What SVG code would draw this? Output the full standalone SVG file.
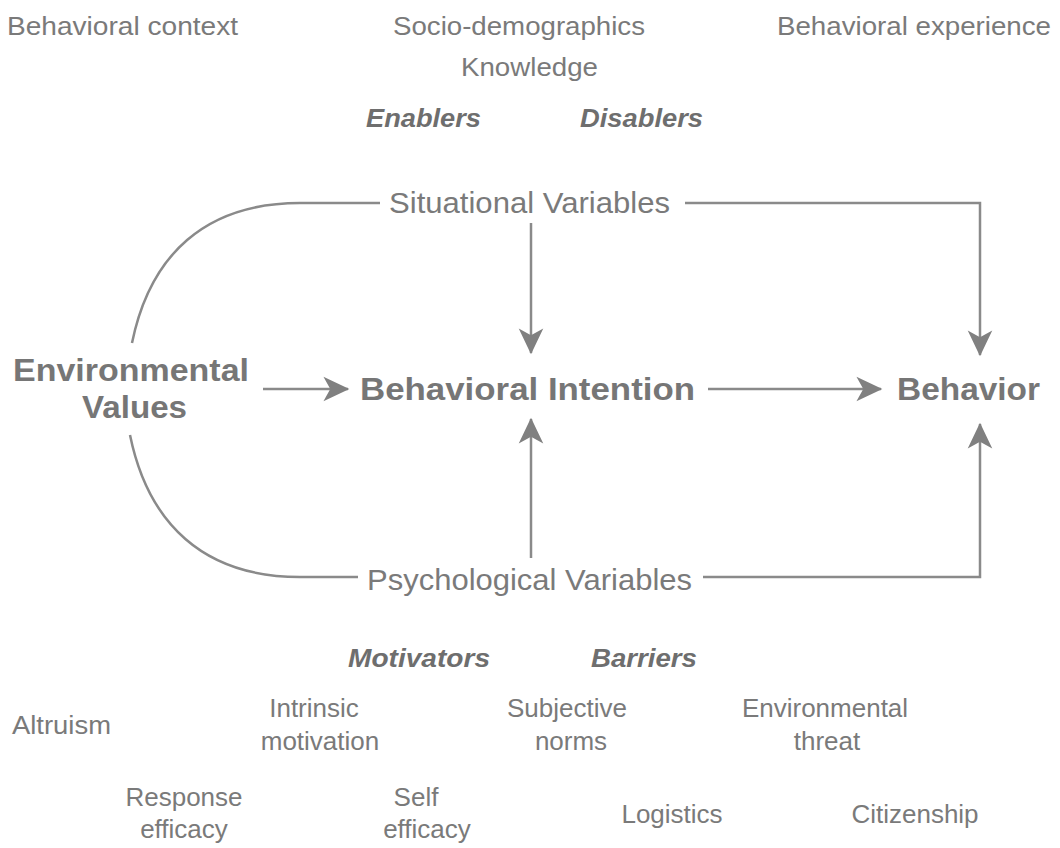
<svg xmlns="http://www.w3.org/2000/svg" width="1060" height="848" viewBox="0 0 1060 848">
<style>
text{font-family:"Liberation Sans",Arial,sans-serif;fill:#7a7a7a;}
.t{font-size:26px;}
.m{font-size:29px;}
.b{font-size:32px;font-weight:bold;fill:#767676;}
.bi{font-size:25px;font-weight:bold;font-style:italic;fill:#6e6e6e;}
.c{text-anchor:middle;}
.ln{fill:none;stroke:#8a8a8a;stroke-width:2.5;}
</style>
<defs>
<marker id="ah" markerUnits="userSpaceOnUse" markerWidth="30" markerHeight="30" viewBox="-20 -11 22 22" refX="0" refY="0" orient="auto">
<path d="M1,0 L-18,-9 L-13,0 L-18,9 Z" fill="#808080"/>
</marker>
</defs>
<rect width="1060" height="848" fill="#ffffff"/>
<g id="connectors">
<path class="ln" d="M132,343 C150,255 205,203 300,203 L380,203"/>
<path class="ln" d="M130,435 C148,523 203,577 300,577 L358,577"/>
<path class="ln" d="M685,203 L980,203 L980,355" marker-end="url(#ah)"/>
<path class="ln" d="M703,577 L980,577 L980,424" marker-end="url(#ah)"/>
<path class="ln" d="M531,223 L531,353" marker-end="url(#ah)"/>
<path class="ln" d="M531,558 L531,419" marker-end="url(#ah)"/>
<path class="ln" d="M263,389 L348,389" marker-end="url(#ah)"/>
<path class="ln" d="M708,389 L881,389" marker-end="url(#ah)"/>
</g>
<g id="context"><text class="t" x="7" y="35" textLength="231" lengthAdjust="spacingAndGlyphs">Behavioral context</text></g>
<g id="socio"><text class="t" x="393" y="35" textLength="252" lengthAdjust="spacingAndGlyphs">Socio-demographics</text></g>
<g id="experience"><text class="t" x="777" y="35" textLength="274" lengthAdjust="spacingAndGlyphs">Behavioral experience</text></g>
<g id="knowledge"><text class="t" x="461" y="76" textLength="137" lengthAdjust="spacingAndGlyphs">Knowledge</text></g>
<g id="enablers"><text class="bi" x="366" y="127" textLength="115" lengthAdjust="spacingAndGlyphs">Enablers</text></g>
<g id="disablers"><text class="bi" x="580" y="127" textLength="123" lengthAdjust="spacingAndGlyphs">Disablers</text></g>
<g id="situational"><text class="m" x="389" y="213" textLength="281" lengthAdjust="spacingAndGlyphs">Situational Variables</text></g>
<g id="environmental-values">
<text class="b" x="13" y="381" textLength="236" lengthAdjust="spacingAndGlyphs">Environmental</text>
<text class="b" x="82" y="418" textLength="105" lengthAdjust="spacingAndGlyphs">Values</text>
</g>
<g id="intention"><text class="b" x="360" y="400" textLength="335" lengthAdjust="spacingAndGlyphs">Behavioral Intention</text></g>
<g id="behavior"><text class="b" x="897" y="400" textLength="143" lengthAdjust="spacingAndGlyphs">Behavior</text></g>
<g id="psychological"><text class="m" x="367" y="590" textLength="325" lengthAdjust="spacingAndGlyphs">Psychological Variables</text></g>
<g id="motivators"><text class="bi" x="348" y="667" textLength="142" lengthAdjust="spacingAndGlyphs">Motivators</text></g>
<g id="barriers"><text class="bi" x="591" y="667" textLength="106" lengthAdjust="spacingAndGlyphs">Barriers</text></g>
<g id="altruism"><text class="t" x="12" y="734" textLength="99" lengthAdjust="spacingAndGlyphs">Altruism</text></g>
<g id="intrinsic">
<text class="t c" x="314" y="717">Intrinsic</text>
<text class="t c" x="320" y="750">motivation</text>
</g>
<g id="subjective">
<text class="t c" x="567" y="717">Subjective</text>
<text class="t c" x="571" y="750">norms</text>
</g>
<g id="threat">
<text class="t c" x="825" y="717">Environmental</text>
<text class="t c" x="827" y="750">threat</text>
</g>
<g id="response">
<text class="t c" x="184" y="806">Response</text>
<text class="t c" x="184" y="838">efficacy</text>
</g>
<g id="self">
<text class="t c" x="416" y="806">Self</text>
<text class="t c" x="427" y="838">efficacy</text>
</g>
<g id="logistics"><text class="t c" x="672" y="823">Logistics</text></g>
<g id="citizenship"><text class="t c" x="915" y="823">Citizenship</text></g>
</svg>
